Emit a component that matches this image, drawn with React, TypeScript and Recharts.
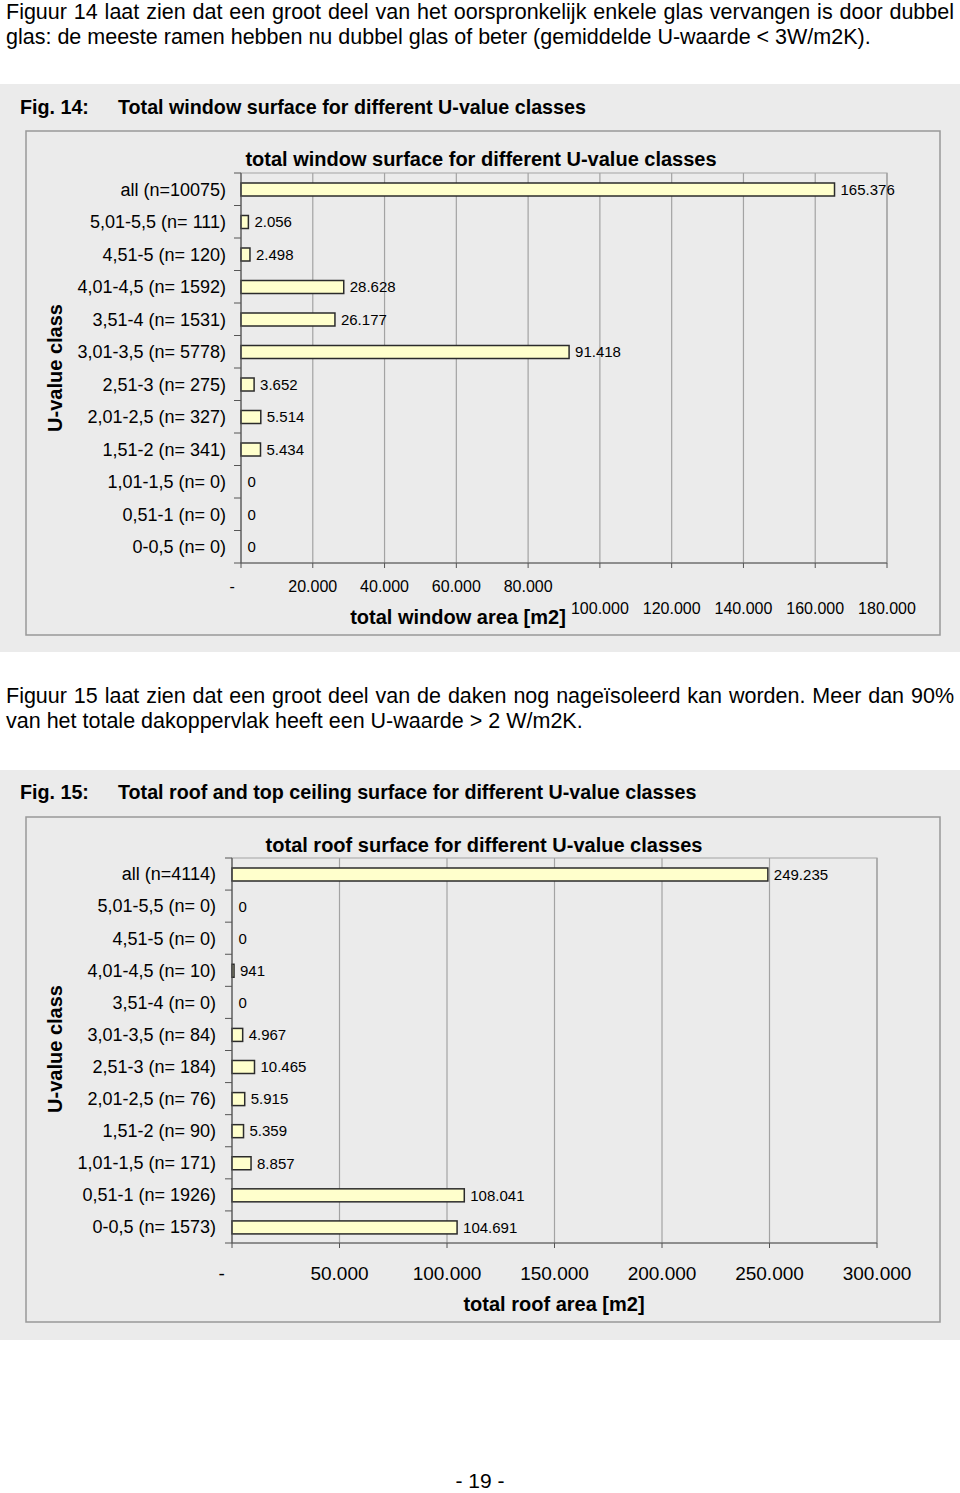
import { BarChart, Bar, XAxis, YAxis, CartesianGrid, LabelList, ReferenceArea } from 'recharts'

// Fig. 14 – window surface per U-value class
const windowClasses = [
  'all (n=10075)',
  '5,01-5,5 (n= 111)',
  '4,51-5 (n= 120)',
  '4,01-4,5 (n= 1592)',
  '3,51-4 (n= 1531)',
  '3,01-3,5 (n= 5778)',
  '2,51-3 (n= 275)',
  '2,01-2,5 (n= 327)',
  '1,51-2 (n= 341)',
  '1,01-1,5 (n= 0)',
  '0,51-1 (n= 0)',
  '0-0,5 (n= 0)',
]
const windowArea = [165376, 2056, 2498, 28628, 26177, 91418, 3652, 5514, 5434, 0, 0, 0]
const windowTicks = [0, 20000, 40000, 60000, 80000, 100000, 120000, 140000, 160000, 180000]

// Fig. 15 – roof surface per U-value class
const roofClasses = [
  'all (n=4114)',
  '5,01-5,5 (n= 0)',
  '4,51-5 (n= 0)',
  '4,01-4,5 (n= 10)',
  '3,51-4 (n= 0)',
  '3,01-3,5 (n= 84)',
  '2,51-3 (n= 184)',
  '2,01-2,5 (n= 76)',
  '1,51-2 (n= 90)',
  '1,01-1,5 (n= 171)',
  '0,51-1 (n= 1926)',
  '0-0,5 (n= 1573)',
]
const roofArea = [249235, 0, 0, 941, 0, 4967, 10465, 5915, 5359, 8857, 108041, 104691]
const roofTicks = [0, 50000, 100000, 150000, 200000, 250000, 300000]

const FONT = 'Arial, "Liberation Sans", Helvetica, sans-serif'
const PANEL = '#ebebeb'
const AXIS = '#555'
const GRID = '#a3a3a3'
const BODY_SIZE = 21.5

// dutch thousands separator: 165376 -> 165.376
function fmt(v: number): string {
  return String(v).replace(/\B(?=(\d{3})+(?!\d))/g, '.')
}

interface ChartCfg {
  classes: string[]
  values: number[]
  ticks: number[]
  top: number
  height: number
  axisX: number // left edge of plot
  plotTop: number
  plotBottom: number
  plotRight: number
  labelX: number
  tickFont: number
  tickBaseline: number // below axis
  secondRowFrom?: number
}

// zero-width bars are kept (minPointSize) so their "0" label shows, but nothing is drawn
function BarShape(props: any) {
  const { x, y, width, height, payload } = props
  if (!payload || !payload.value) return <g />
  return <rect x={x} y={y} width={width} height={height} fill="#ffffcc" stroke="#2b2b2b" strokeWidth={1.5} />
}

function HBarChart({ cfg }: { cfg: ChartCfg }) {
  const data = cfg.classes.map((c, i) => ({ label: c, value: cfg.values[i] }))
  const chartPlotTop = cfg.plotTop - cfg.top
  const chartPlotBottom = cfg.plotBottom - cfg.top
  const band = (cfg.plotBottom - cfg.plotTop) / cfg.classes.length
  const xAxisH = 30

  const yTick = (props: any) => {
    const { y, payload, index } = props
    return (
      <g>
        <text x={cfg.labelX} y={y} dy="0.35em" textAnchor="end" fontSize={18} fill="#000" fontFamily={FONT}>
          {payload.value}
        </text>
        <line x1={cfg.axisX - 7} x2={cfg.axisX} y1={y + band / 2} y2={y + band / 2} stroke={AXIS} />
        {index === 0 && (
          <line x1={cfg.axisX - 7} x2={cfg.axisX} y1={y - band / 2} y2={y - band / 2} stroke={AXIS} />
        )}
      </g>
    )
  }

  const xTick = (props: any) => {
    const { x, payload } = props
    const v = payload.value as number
    const row2 = cfg.secondRowFrom !== undefined && v >= cfg.secondRowFrom
    const base = chartPlotBottom + cfg.tickBaseline + (row2 ? 22 : 0)
    return (
      <text
        x={v === 0 ? x - cfg.tickFont * 0.55 : x}
        y={base}
        textAnchor="middle"
        fontSize={cfg.tickFont}
        fill="#000"
        fontFamily={FONT}
      >
        {v === 0 ? '-' : fmt(v)}
      </text>
    )
  }

  const max = cfg.ticks[cfg.ticks.length - 1]

  return (
    <div style={{ position: 'absolute', left: 0, top: cfg.top }}>
      <BarChart
        width={960}
        height={cfg.height}
        data={data}
        layout="vertical"
        margin={{ top: chartPlotTop, right: 960 - cfg.plotRight, bottom: cfg.height - chartPlotBottom - xAxisH, left: 0 }}
        barCategoryGap={0}
      >
        <CartesianGrid horizontal={false} stroke={GRID} strokeWidth={1.2} />
        <ReferenceArea x1={0} x2={max} fill="none" stroke={GRID} strokeWidth={1.2} ifOverflow="visible" />
        <XAxis
          type="number"
          domain={[0, max]}
          ticks={cfg.ticks}
          interval={0}
          height={xAxisH}
          axisLine={{ stroke: AXIS }}
          tickLine={{ stroke: AXIS }}
          tickSize={5}
          tick={xTick}
        />
        <YAxis
          type="category"
          dataKey="label"
          width={cfg.axisX}
          axisLine={{ stroke: AXIS }}
          tickLine={false}
          interval={0}
          tick={yTick}
        />
        <Bar
          dataKey="value"
          fill="#ffffcc"
          stroke="#2b2b2b"
          strokeWidth={1.5}
          barSize={13}
          minPointSize={0.5}
          shape={BarShape}
          isAnimationActive={false}
        >
          <LabelList
            dataKey="value"
            position="right"
            offset={6}
            formatter={(v: any) => fmt(Number(v))}
            style={{ fontSize: 15, fill: '#000', fontFamily: FONT }}
          />
        </Bar>
      </BarChart>
    </div>
  )
}

const windowCfg: ChartCfg = {
  classes: windowClasses,
  values: windowArea,
  ticks: windowTicks,
  top: 131,
  height: 504,
  axisX: 241,
  plotTop: 173,
  plotBottom: 563,
  plotRight: 887,
  labelX: 226,
  tickFont: 16,
  tickBaseline: 29,
  secondRowFrom: 100000,
}

const roofCfg: ChartCfg = {
  classes: roofClasses,
  values: roofArea,
  ticks: roofTicks,
  top: 817,
  height: 505,
  axisX: 232,
  plotTop: 858,
  plotBottom: 1243,
  plotRight: 877,
  labelX: 216,
  tickFont: 19,
  tickBaseline: 37,
}

function BodyLine({ top, text, justify }: { top: number; text: string; justify?: boolean }) {
  return (
    <div
      style={{
        position: 'absolute',
        left: 6,
        top,
        width: 948,
        fontSize: BODY_SIZE,
        lineHeight: '25px',
        color: '#000',
        fontFamily: FONT,
        textAlign: 'justify',
        textAlignLast: justify ? 'justify' : 'left',
        whiteSpace: 'normal',
      }}
    >
      {text}
    </div>
  )
}

export default function App() {
  return (
    <div style={{ position: 'absolute', left: 0, top: 0, width: 960, height: 1493, background: '#fff', fontFamily: FONT }}>
      <svg width={960} height={1493} style={{ position: 'absolute', left: 0, top: 0 }} fontFamily={FONT}>
        <rect x={0} y={84} width={960} height={568} fill={PANEL} />
        <text x={20} y={114} fontSize={19.7} fontWeight="bold" fill="#000">Fig. 14:</text>
        <text x={118} y={114} fontSize={19.7} fontWeight="bold" fill="#000">
          Total window surface for different U-value classes
        </text>
        <rect x={26} y={131} width={914} height={504} fill="none" stroke="#999" strokeWidth={1.5} />
        <text x={481} y={166} fontSize={20} fontWeight="bold" textAnchor="middle" fill="#000">
          total window surface for different U-value classes
        </text>
        <text
          x={55}
          y={368}
          fontSize={20}
          fontWeight="bold"
          textAnchor="middle"
          dominantBaseline="central"
          transform="rotate(-90 55 368)"
          fill="#000"
        >
          U-value class
        </text>
        <text x={458} y={624} fontSize={20} fontWeight="bold" textAnchor="middle" fill="#000">
          total window area [m2]
        </text>

        <rect x={0} y={770} width={960} height={570} fill={PANEL} />
        <text x={20} y={799} fontSize={19.7} fontWeight="bold" fill="#000">Fig. 15:</text>
        <text x={118} y={799} fontSize={19.7} fontWeight="bold" fill="#000">
          Total roof and top ceiling surface for different U-value classes
        </text>
        <rect x={26} y={817} width={914} height={505} fill="none" stroke="#999" strokeWidth={1.5} />
        <text x={484} y={852} fontSize={20} fontWeight="bold" textAnchor="middle" fill="#000">
          total roof surface for different U-value classes
        </text>
        <text
          x={55}
          y={1049}
          fontSize={20}
          fontWeight="bold"
          textAnchor="middle"
          dominantBaseline="central"
          transform="rotate(-90 55 1049)"
          fill="#000"
        >
          U-value class
        </text>
        <text x={554} y={1311} fontSize={20} fontWeight="bold" textAnchor="middle" fill="#000">
          total roof area [m2]
        </text>

        <text x={480} y={1488} fontSize={21} textAnchor="middle" fill="#000">- 19 -</text>
      </svg>

      <BodyLine
        top={0}
        justify
        text="Figuur 14 laat zien dat een groot deel van het oorspronkelijk enkele glas vervangen is door dubbel"
      />
      <BodyLine top={25} text="glas: de meeste ramen hebben nu dubbel glas of beter (gemiddelde U-waarde < 3W/m2K)." />
      <BodyLine
        top={684}
        justify
        text="Figuur 15 laat zien dat een groot deel van de daken nog nageïsoleerd kan worden. Meer dan 90%"
      />
      <BodyLine top={709} text="van het totale dakoppervlak heeft een U-waarde > 2 W/m2K." />

      <HBarChart cfg={windowCfg} />
      <HBarChart cfg={roofCfg} />
    </div>
  )
}
